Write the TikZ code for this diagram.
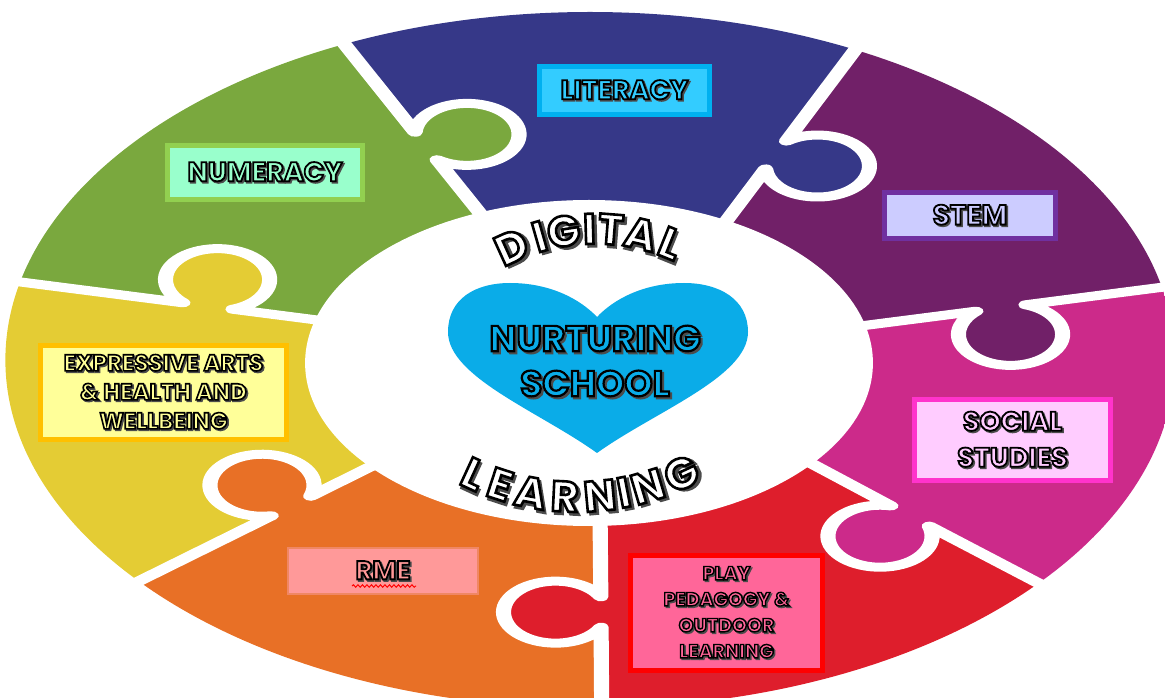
\documentclass[tikz,border=0pt]{standalone}
\usepackage{fontspec}
\usetikzlibrary{calc,decorations.pathmorphing}
\newfontfamily\tagfont{Poppins}
\definecolor{numgreen}{RGB}{122,168,62}
\definecolor{litblue}{RGB}{54,56,136}
\definecolor{stempurple}{RGB}{113,32,104}
\definecolor{socmagenta}{RGB}{204,42,138}
\definecolor{playred}{RGB}{222,30,44}
\definecolor{rmeorange}{RGB}{232,112,38}
\definecolor{expyellow}{RGB}{228,204,52}
\definecolor{heartblue}{RGB}{10,172,232}
\definecolor{litfill}{RGB}{51,204,255}
\definecolor{litedge}{RGB}{0,176,240}
\definecolor{numfill}{RGB}{153,255,204}
\definecolor{numedge}{RGB}{146,208,80}
\definecolor{stemfill}{RGB}{204,204,255}
\definecolor{stemedge}{RGB}{112,48,160}
\definecolor{expfill}{RGB}{255,255,153}
\definecolor{expedge}{RGB}{255,192,0}
\definecolor{socfill}{RGB}{255,204,255}
\definecolor{socedge}{RGB}{255,51,204}
\definecolor{rmefill}{RGB}{255,153,153}
\definecolor{rmeedge}{RGB}{240,135,100}
\definecolor{playfill}{RGB}{255,102,153}
\definecolor{playedge}{RGB}{255,0,0}
%outlined letters: grey shadow, then fill with a black stroke round each glyph
\def\outlnum{2}
\def\shadnum{1.5}
\newcommand\strokeon[1]{\special{pdf:literal direct #1 RG 2 Tr \outlnum\space w}}
\newcommand\strokeoff{\special{pdf:literal direct 0 Tr}}
\newcommand\outl[2][white]{\leavevmode{%
\rlap{\kern\shadnum pt\raisebox{-\shadnum pt}{\color{black!70}\strokeon{0.3 0.3 0.3}#2\strokeoff}}%
\color{#1}\strokeon{0 0 0}#2\strokeoff}}
%one seam: outer end, knob base, inner end, knob direction, side
\newcommand\knobd{27}
\newcommand\knobr{31}
\newcommand\knobb{29.4}
\newcommand\seam[5]{-- (#1) -- ($(#2)+(#4:\knobd)+({#4+180-(#5)*\knobb}:\knobr)$)
arc[start angle={#4+180-(#5)*\knobb}, delta angle={-(#5)*(360-2*\knobb)}, radius=\knobr] -- (#3)}
\tikzset{
seamline/.style={white, line width=9pt, line join=round},
tagbox/.style n args={3}{line width=5pt, inner sep=0pt, align=center,
font=\def\outlnum{#3}\tagfont\bfseries\fontsize{#1}{#2}\selectfont},
arcletter/.style={inner sep=0pt, font=\def\outlnum{2.6}\def\shadnum{2.5}\tagfont\bfseries\fontsize{43}{43}\selectfont}
}
\begin{document}
\begin{tikzpicture}[x=1pt,y=1pt]
\useasboundingbox (0,0) rectangle (1165,697);
%puzzle ring, drawn round and stretched sideways
\begin{scope}[transform canvas={xscale=1.68}]
\coordinate (c) at (350.6,334);
\foreach \n/\ox/\oy/\mx/\my/\ix/\iy in {1/194/676/253.6/551/295.2/464,2/520.2/672/461.9/542/425.6/461,
3/711.3/414/595.8/389/503/369,4/642.9/92/541.7/181/470.2/245,5/358.3/-48/357.7/85/357.1/197,
6/68.5/104/173.2/191/232.1/240,7/3/417/123.8/391/202.4/374}
{
\coordinate (o\n) at (\ox,\oy);
\coordinate (m\n) at (\mx,\my);
\coordinate (i\n) at (\ix,\iy);
}
%pieces
\begin{scope}
\clip (351.2,337) circle (348);
\foreach \a/\ta/\b/\tb/\col in {1/25.5/2/-24.1/litblue,2/-24.1/3/-77.8/stempurple,3/-77.8/4/228.5/socmagenta,
4/228.5/5/180.3/playred,5/180.3/6/129.7/rmeorange,6/129.7/7/77.8/expyellow,7/77.8/1/25.5/numgreen}
{
\fill[\col] ($(c)!2.2!(o\a)$) \seam{o\a}{m\a}{i\a}{\ta}{1} -- (c) \seam{i\b}{m\b}{o\b}{\tb}{-1} -- ($(c)!2.2!(o\b)$) -- cycle;
}
\end{scope}
%white gaps
\foreach \n/\t in {1/25.5,2/-24.1,3/-77.8,4/228.5,5/180.3,6/129.7,7/77.8}
{
\draw[seamline] (o\n) \seam{o\n}{m\n}{i\n}{\t}{1};
}
%hole
\fill[white] (c) ellipse (169 and 163);
\end{scope}
%heart
\fill[heartblue] (597,244) .. controls (540,285) and (448,320) .. (448,365)
.. controls (448,398) and (475,414) .. (510,414)
.. controls (550,414) and (580,398) .. (597,380)
.. controls (614,398) and (644,414) .. (684,414)
.. controls (719,414) and (748,398) .. (748,365)
.. controls (748,320) and (654,285) .. (597,244) -- cycle;
\node[inner sep=0pt, align=center, font=\def\outlnum{2.2}\def\shadnum{2}\tagfont\bfseries\fontsize{36}{45}\selectfont] (heart) at (595,335)
{\outl[heartblue]{NURTURING}\\\outl[heartblue]{SCHOOL}};
%words round the hole
\foreach \ch/\ang [count=\i] in {D/114.5,I/106,G/99,I/91.6,T/85.5,A/76.8,L/68}
{
\node[arcletter, rotate=\ang-90] (dig\i) at ($(595,267)+(\ang:200)$) {\outl{\ch}};
}
\foreach \ch/\ang [count=\i] in {L/245.3,E/251.9,A/259.3,R/267.2,N/275.3,I/280.9,N/286.6,G/294.9}
{
\node[arcletter, rotate=\ang+90] (lrn\i) at ($(577,448)+(\ang:249)$) {\outl{\ch}};
}
%labels
\node[tagbox={27}{30}{1.8}, draw=litedge, fill=litfill, minimum width=170pt, minimum height=48pt] (lit) at (624.5,606.5) {\outl[litfill]{LITERACY}};
\node[tagbox={27}{30}{1.8}, draw=numedge, fill=numfill, minimum width=195pt, minimum height=54pt] (num) at (265,524.5) {\outl[numfill]{NUMERACY}};
\node[tagbox={28}{30}{1.8}, draw=stemedge, fill=stemfill, minimum width=171pt, minimum height=46pt] (stem) at (970,481.5) {\outl[stemfill]{STEM}};
\node[tagbox={23}{29}{1.6}, draw=expedge, fill=expfill, minimum width=246pt, minimum height=94pt] (exp) at (163.5,304.5)
{\outl[expfill]{EXPRESSIVE ARTS}\\\outl[expfill]{\& HEALTH AND}\\\outl[expfill]{WELLBEING}};
\node[tagbox={27}{36}{1.8}, draw=socedge, fill=socfill, minimum width=196pt, minimum height=81pt] (soc) at (1012.5,257)
{\outl[socfill]{SOCIAL}\\\outl[socfill]{STUDIES}};
\node[tagbox={26}{28}{1.8}, draw=rmeedge, fill=rmefill, line width=2pt, minimum width=190pt, minimum height=46pt] (rme) at (383,126) {\outl[rmefill]{RME}};
\node[tagbox={19}{26}{1.4}, draw=playedge, fill=playfill, minimum width=192pt, minimum height=115pt] (play) at (726.5,84)
{\outl[playfill]{PLAY}\\\outl[playfill]{PEDAGOGY \&}\\\outl[playfill]{OUTDOOR}\\\outl[playfill]{LEARNING}};
\draw[red, line width=1pt, decorate, decoration={snake, amplitude=1.2pt, segment length=4.5pt}] ($(rme.center)+(-31,-15)$) -- ($(rme.center)+(33,-15)$);
\end{tikzpicture}
\end{document}
